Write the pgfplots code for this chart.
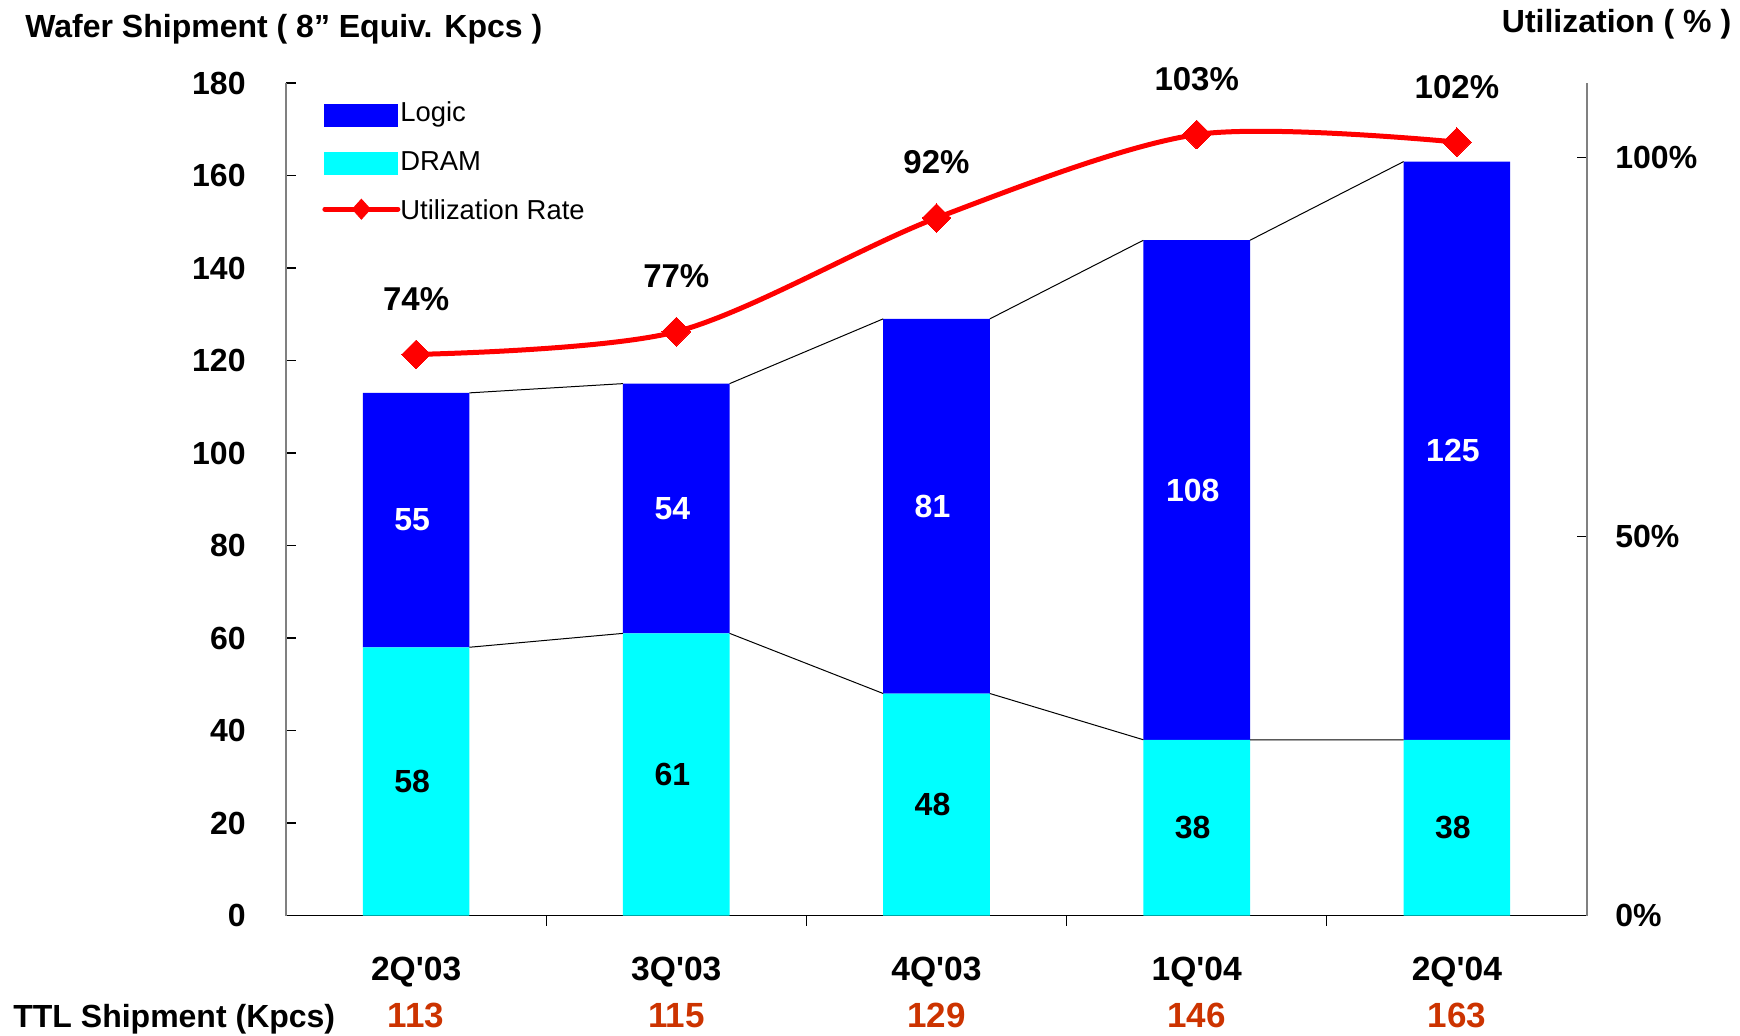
\documentclass[border=0pt]{standalone}
\usepackage{pgfplots}
\pgfplotsset{compat=1.18}
\usepackage{fontspec}
\setmainfont{Liberation Sans}
\definecolor{logic}{RGB}{0,0,255}
\definecolor{dram}{RGB}{0,255,255}
\definecolor{util}{RGB}{255,0,0}
\definecolor{ttl}{RGB}{204,51,0}
\definecolor{axgray}{RGB}{128,128,128}

\pgfplotstableread{
x dram logic total
0 58 55 113
1 61 54 115
2 48 81 129
3 38 108 146
4 38 125 163
}\shipdata

\newcommand{\bigbf}{\fontsize{16}{19}\selectfont\bfseries}
\newcommand{\q}{\textquotesingle}

\begin{document}
\begin{tikzpicture}
\useasboundingbox (-143pt,-59.75pt) rectangle (727pt,457.75pt);
\pgfplotsset{
  common/.style={at={(0pt,0pt)}, anchor=south west, scale only axis,
    width=650.5pt, height=416.25pt, xmin=-0.5, xmax=4.5, clip=false,
    /pgf/number format/assume math mode=true},
}
% ---------- bars (left axis)
\begin{axis}[common, ymin=0, ymax=180, ybar stacked, bar width=0.41,
  axis x line*=bottom, axis y line*=left,
  x axis line style={black,-,line width=0.8pt},
  y axis line style={axgray,-,line width=0.8pt},
  ytick={0,20,...,180}, ytick align=inside, major tick length=5pt,
  ytick style={black,line width=0.6pt},
  yticklabel style={font=\bigbf, anchor=east, inner sep=0pt, xshift=-20pt},
  xtick={0.5,1.5,2.5,3.5}, xticklabels={}, xtick align=outside,
  xtick style={black,line width=0.6pt},
  extra x ticks={0,1,2,3,4},
  extra x tick labels={2Q\q03,3Q\q03,4Q\q03,1Q\q04,2Q\q04},
  extra x tick style={major tick length=0pt,
    xticklabel style={font=\fontsize{16.8}{20}\selectfont\bfseries, anchor=base, inner sep=0pt, yshift=-32.25pt}},
  legend cell align=left,
  legend style={at={(axis description cs:0,1)}, anchor=north west,
    xshift=18pt, yshift=-9.3pt, draw=none, fill=none, inner sep=0pt,
    row sep=11.2pt, font=\fontsize{13.7}{16}\selectfont,
    nodes={inner sep=0pt, text height=10pt, text depth=3pt},
    /tikz/every even column/.append style={column sep=2.5pt}},
]
\addplot[fill=dram, draw=none, forget plot] table[x=x, y=dram] {\shipdata};
\addplot[fill=logic, draw=none, forget plot] table[x=x, y=logic] {\shipdata};
\addlegendimage{legend image code/.code={\fill[logic] (0pt,-5.5pt) rectangle (36.5pt,5.3pt);}}
\addlegendentry{Logic}
\addlegendimage{legend image code/.code={\fill[dram] (0pt,-5.5pt) rectangle (36.5pt,5.3pt);}}
\addlegendentry{DRAM}
\addlegendimage{legend image code/.code={
  \draw[util, line width=2.5pt, line cap=round] (0pt,1.9pt) -- (36.5pt,1.9pt);
  \fill[util] (18.25pt,-3.1pt) -- (22.75pt,1.9pt) -- (18.25pt,6.9pt) -- (13.75pt,1.9pt) -- cycle;}}
\addlegendentry{Utilization Rate}
\end{axis}
% ---------- series lines and value labels
\begin{axis}[common, ymin=0, ymax=180, hide axis]
\addplot[black, line width=0.5pt, unbounded coords=jump, mark=none] coordinates
 {(0.205,113)(0.795,115)(1,nan)(1.205,115)(1.795,129)(2,nan)(2.205,129)(2.795,146)(3,nan)(3.205,146)(3.795,163)};
\addplot[black, line width=0.5pt, unbounded coords=jump, mark=none] coordinates
 {(0.205,58)(0.795,61)(1,nan)(1.205,61)(1.795,48)(2,nan)(2.205,48)(2.795,38)(3,nan)(3.205,38)(3.795,38)};
\addplot[draw=none, mark=none, nodes near coords, point meta=explicit symbolic,
  every node near coord/.append style={anchor=center, text=white, font=\bigbf, xshift=-2pt}]
  coordinates {(0,85.5)[55] (1,88)[54] (2,88.5)[81] (3,92)[108] (4,100.5)[125]};
\addplot[draw=none, mark=none, nodes near coords, point meta=explicit symbolic,
  every node near coord/.append style={anchor=center, text=black, font=\bigbf, xshift=-2pt}]
  coordinates {(0,29)[58] (1,30.5)[61] (2,24)[48] (3,19)[38] (4,19)[38]};
\addplot[draw=none, mark=none, nodes near coords, point meta=explicit symbolic,
  every node near coord/.append style={anchor=base, inner sep=0pt, text=ttl, font=\fontsize{17.5}{20}\selectfont\bfseries}]
  coordinates {(0,-24.32)[113] (1,-24.32)[115] (2,-24.32)[129] (3,-24.32)[146] (4,-24.32)[163]};
\end{axis}
% ---------- utilization (right axis)
\begin{axis}[common, ymin=0, ymax=109.8,
  axis y line*=right, axis x line=none,
  y axis line style={axgray,-,line width=0.8pt},
  ytick={0,50,100}, yticklabel={\pgfmathprintnumber{\tick}\%},
  ytick align=inside, major tick length=5pt, ytick style={black,line width=0.6pt},
  yticklabel style={font=\bigbf, anchor=west, inner sep=0pt, xshift=14pt},
]
\addplot[util, line width=2.5pt, smooth, mark=square*, mark size=5.1pt,
  mark options={rotate=45, solid, fill=util, draw=util, line width=0pt},
  nodes near coords={\pgfmathprintnumber{\pgfplotspointmeta}\%},
  every node near coord/.append style={anchor=center, yshift=27.7pt, text=black,
    font=\fontsize{16.5}{19}\selectfont\bfseries}]
  coordinates {(0,74) (1,77) (2,92) (3,103) (4,102)};
\end{axis}
\node[anchor=base west, inner sep=0pt, font=\bigbf] at (-130.5pt,438.9pt) {Wafer Shipment ( 8” Equiv. Kpcs )};
\node[anchor=base east, inner sep=0pt, font=\bigbf] at (722.8pt,441.25pt) {Utilization ( \% )};
\node[anchor=base west, inner sep=0pt, font=\bigbf] at (-136.5pt,-55.75pt) {TTL Shipment (Kpcs)};
\end{tikzpicture}
\end{document}
